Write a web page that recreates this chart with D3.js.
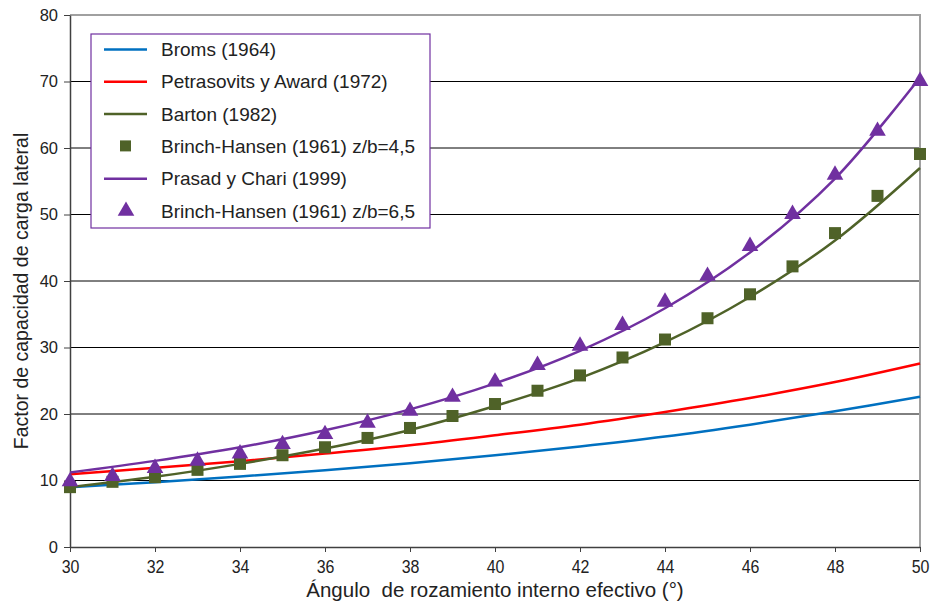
<!DOCTYPE html>
<html>
<head>
<meta charset="utf-8">
<script src="https://cdn.jsdelivr.net/npm/d3@7"></script>
<style>
  body { margin: 0; background: #fff; }
  svg { font-family: "Liberation Sans", Arial, sans-serif; }
</style>
</head>
<body>
<svg></svg>
<script>
const width = 932
const height = 603
const margin = {top: 15, right: 12, bottom: 56, left: 70}

// angles (deg) for the curves
const angles = [30, 32, 34, 36, 38, 40, 42, 44, 46, 48, 50]
const broms = [9.0, 9.75, 10.6, 11.55, 12.6, 13.8, 15.1, 16.6, 18.4, 20.4, 22.6]
const petrasovits = [10.95, 11.9, 12.9, 14.05, 15.3, 16.8, 18.4, 20.3, 22.4, 24.8, 27.6]
const barton = [9.0, 10.55, 12.5, 14.8, 17.6, 21.2, 25.4, 30.8, 37.6, 46.1, 57.0]
const prasad = [11.2, 12.95, 15.0, 17.55, 20.7, 24.6, 29.5, 35.9, 44.3, 55.4, 70.6]

// Brinch-Hansen points, every degree
const bhAngles = [30, 31, 32, 33, 34, 35, 36, 37, 38, 39, 40, 41, 42, 43, 44, 45, 46, 47, 48, 49, 50]
const bh45 = [9.0, 9.8, 10.5, 11.6, 12.5, 13.8, 15.0, 16.4, 17.9, 19.7, 21.5, 23.5, 25.8, 28.5, 31.2, 34.4, 38.0, 42.2, 47.2, 52.8, 59.1]
const bh65 = [10.0, 10.8, 12.0, 13.1, 14.2, 15.6, 17.1, 18.8, 20.6, 22.7, 25.0, 27.5, 30.4, 33.5, 37.0, 40.9, 45.4, 50.2, 56.1, 62.7, 70.2]

const xTicks = [30, 32, 34, 36, 38, 40, 42, 44, 46, 48, 50]
const yTicks = [0, 10, 20, 30, 40, 50, 60, 70, 80]

const legendNames = ['Broms (1964)', 'Petrasovits y Award (1972)', 'Barton (1982)',
  'Brinch-Hansen (1961) z/b=4,5', 'Prasad y Chari (1999)', 'Brinch-Hansen (1961) z/b=6,5']

const colBlue = '#0070c0'
const colRed = '#ff0000'
const colOlive = '#4f6228'
const colPurple = '#7030a0'

let svg = d3.select('svg').attr('width', width).attr('height', height)

let xScale = d3.scaleLinear().domain([30, 50]).range([margin.left, width - margin.right])
let yScale = d3.scaleLinear().domain([0, 80]).range([height - margin.bottom, margin.top])

// gridlines
svg.append('g')
  .selectAll('line')
  .data(yTicks.filter(d => d > 0 && d < 80))
  .enter()
  .append('line')
  .attr('x1', xScale(30)).attr('x2', xScale(50))
  .attr('y1', d => yScale(d)).attr('y2', d => yScale(d))
  .attr('stroke', '#000').attr('stroke-width', 1)

// plot frame (top/right)
svg.append('path')
  .attr('d', `M${xScale(30)},${yScale(80)}H${xScale(50)}V${yScale(0)}`)
  .attr('fill', 'none').attr('stroke', '#a0a0a0').attr('stroke-width', 2)

// axes
let xAxis = d3.axisBottom(xScale).tickValues(xTicks).tickSize(5).tickSizeOuter(0).tickPadding(8)
let yAxis = d3.axisLeft(yScale).tickValues(yTicks).tickSize(6).tickSizeOuter(0).tickPadding(6)

let gx = svg.append('g')
  .attr('transform', `translate(0,${yScale(0)})`)
  .call(xAxis)
gx.select('.domain').attr('stroke', '#404040').attr('stroke-width', 1.5)
gx.selectAll('.tick line').attr('stroke', '#404040')
gx.selectAll('.tick text')
  .attr('font-size', 19).attr('fill', '#222')
  .attr('transform', 'scale(0.84,1)')

let gy = svg.append('g')
  .attr('transform', `translate(${xScale(30)},0)`)
  .call(yAxis)
gy.select('.domain').attr('stroke', '#404040').attr('stroke-width', 1.5)
gy.selectAll('.tick line').attr('stroke', '#404040')
gy.selectAll('.tick text').attr('font-size', 16.5).attr('fill', '#222')

// axis titles
svg.append('text')
  .attr('x', (xScale(30) + xScale(50)) / 2)
  .attr('y', 597)
  .attr('text-anchor', 'middle')
  .attr('font-size', 20.5)
  .attr('fill', '#222')
  .style('white-space', 'pre')
  .text('Ángulo  de rozamiento interno efectivo (°)')

svg.append('text')
  .attr('transform', `translate(28,${(yScale(0) + yScale(80)) / 2 + 10}) rotate(-90)`)
  .attr('text-anchor', 'middle')
  .attr('font-size', 19.5)
  .attr('fill', '#222')
  .text('Factor de capacidad de carga lateral')

// curves
let line = d3.line()
  .x((d, i) => xScale(angles[i]))
  .y(d => yScale(d))
  .curve(d3.curveCatmullRom)

const curves = [[broms, colBlue], [petrasovits, colRed], [barton, colOlive], [prasad, colPurple]]
curves.forEach(([vals, c]) => {
  svg.append('path')
    .datum(vals)
    .attr('d', line)
    .attr('fill', 'none')
    .attr('stroke', c)
    .attr('stroke-width', 2.5)
})

// markers
svg.append('g')
  .selectAll('rect')
  .data(bh45)
  .enter()
  .append('rect')
  .attr('x', (d, i) => xScale(bhAngles[i]) - 6)
  .attr('y', d => yScale(d) - 6)
  .attr('width', 12).attr('height', 12)
  .attr('fill', colOlive)

let tri = d3.symbol().type(d3.symbolTriangle).size(120)
svg.append('g')
  .selectAll('path')
  .data(bh65)
  .enter()
  .append('path')
  .attr('d', tri)
  .attr('transform', (d, i) => `translate(${xScale(bhAngles[i])},${yScale(d) + 1})`)
  .attr('fill', colPurple)

// legend
let lg = svg.append('g').attr('transform', 'translate(91,34)')
lg.append('rect')
  .attr('width', 339).attr('height', 194)
  .attr('fill', '#fff')
  .attr('stroke', colPurple).attr('stroke-width', 1.2)

const legendKinds = ['line', 'line', 'line', 'square', 'line', 'triangle']
const legendColors = [colBlue, colRed, colOlive, colOlive, colPurple, colPurple]

legendNames.forEach((name, i) => {
  let cy = 15.5 + i * 32.3
  let row = lg.append('g').attr('transform', `translate(0,${cy})`)
  if (legendKinds[i] === 'line') {
    row.append('line')
      .attr('x1', 13).attr('x2', 56)
      .attr('stroke', legendColors[i]).attr('stroke-width', 2.5)
  } else if (legendKinds[i] === 'square') {
    row.append('rect').attr('x', 29).attr('y', -6).attr('width', 11).attr('height', 11)
      .attr('fill', legendColors[i])
  } else {
    row.append('path').attr('d', tri).attr('transform', 'translate(35,0)')
      .attr('fill', legendColors[i])
  }
  row.append('text')
    .attr('x', 70).attr('y', 0).attr('dy', '0.35em')
    .attr('font-size', 19).attr('fill', '#222')
    .text(name)
})
</script>
</body>
</html>
